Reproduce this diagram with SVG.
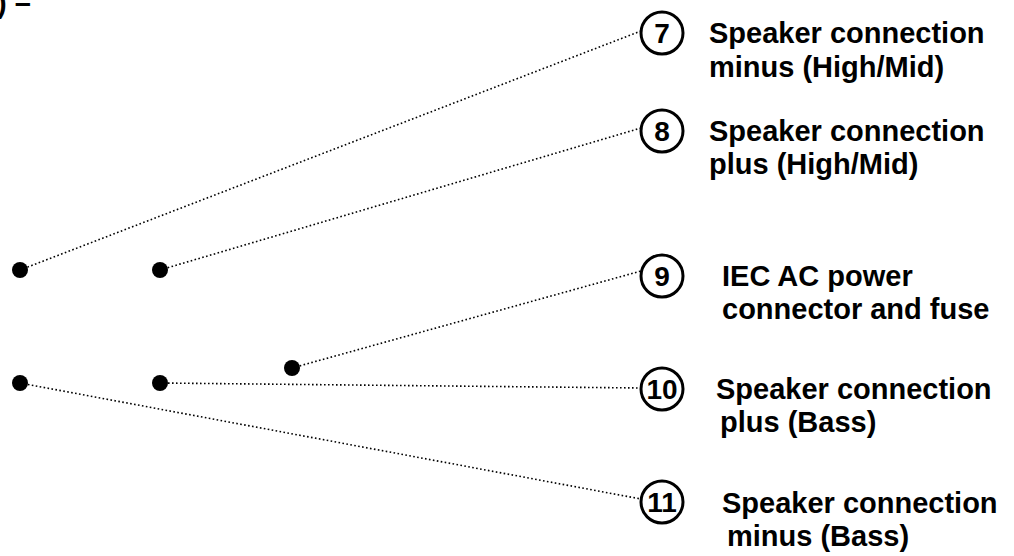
<svg xmlns="http://www.w3.org/2000/svg" width="1014" height="556" viewBox="0 0 1014 556">
<style>
.lbl{font-family:"Liberation Sans",Arial,sans-serif;font-weight:bold;font-size:29px;fill:#000}
.num{font-family:"Liberation Sans",Arial,sans-serif;font-weight:bold;font-size:28px;fill:#000;text-anchor:middle}
.ring{fill:#fff;stroke:#000;stroke-width:3}
.dot{fill:#000}
.lead{stroke:#000;stroke-width:1.6;stroke-dasharray:1.6 2.4;fill:none}
</style>
<rect width="1014" height="556" fill="#fff"/>
<text class="lbl" x="-3" y="13">) –</text>
<g id="connectors">
<line class="lead" x1="20" y1="270" x2="641" y2="31"/>
<line class="lead" x1="160" y1="270" x2="641" y2="128"/>
<line class="lead" x1="292" y1="368" x2="641" y2="271"/>
<line class="lead" x1="160" y1="383" x2="641" y2="388"/>
<line class="lead" x1="20" y1="383" x2="641" y2="499"/>
</g>
<g id="dots">
<circle class="dot" cx="20" cy="270" r="8"/>
<circle class="dot" cx="160" cy="270" r="8"/>
<circle class="dot" cx="292" cy="368" r="8"/>
<circle class="dot" cx="160" cy="383" r="8"/>
<circle class="dot" cx="20" cy="383" r="8"/>
</g>
<g id="n7">
<circle class="ring" cx="662" cy="33" r="21"/>
<text class="num" x="662" y="43">7</text>
<text class="lbl" x="709" y="43">Speaker connection</text>
<text class="lbl" x="709" y="77">minus (High/Mid)</text>
</g>
<g id="n8">
<circle class="ring" cx="662" cy="131" r="21"/>
<text class="num" x="662" y="141">8</text>
<text class="lbl" x="709" y="141">Speaker connection</text>
<text class="lbl" x="709" y="174">plus (High/Mid)</text>
</g>
<g id="n9">
<circle class="ring" cx="662" cy="276" r="21"/>
<text class="num" x="662" y="286">9</text>
<text class="lbl" x="722" y="286">IEC AC power</text>
<text class="lbl" x="722" y="319">connector and fuse</text>
</g>
<g id="n10">
<circle class="ring" cx="662" cy="389" r="21"/>
<text class="num" x="662" y="399">10</text>
<text class="lbl" x="716" y="399">Speaker connection</text>
<text class="lbl" x="720" y="432">plus (Bass)</text>
</g>
<g id="n11">
<circle class="ring" cx="662" cy="502" r="21"/>
<text class="num" x="662" y="512">11</text>
<text class="lbl" x="722" y="513">Speaker connection</text>
<text class="lbl" x="727" y="546">minus (Bass)</text>
</g>
</svg>
